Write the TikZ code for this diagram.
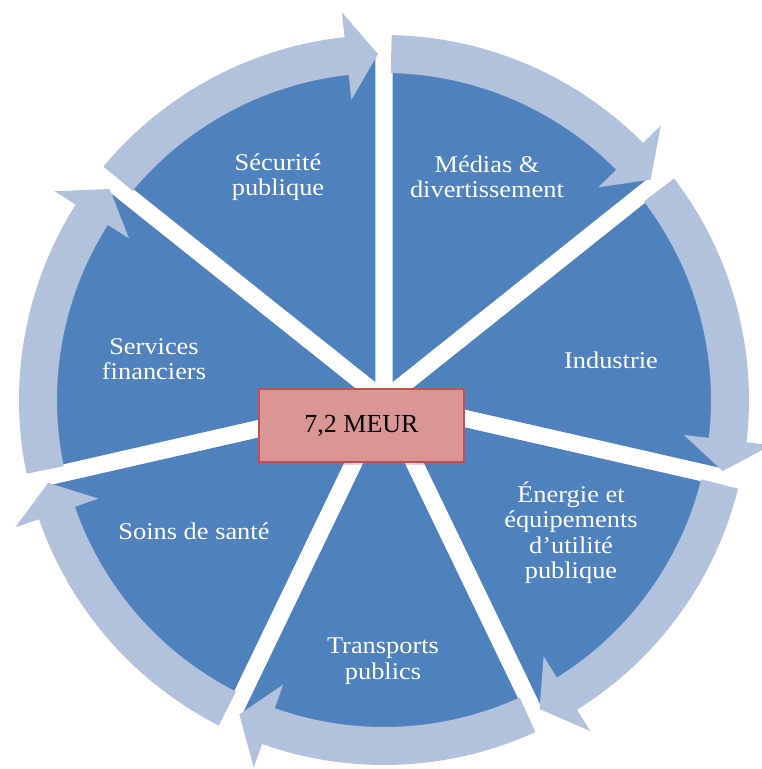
\documentclass[tikz,border=0pt]{standalone}
\usepackage{fontspec}
\setmainfont{Liberation Serif}
\newfontfamily\sectorfont{Liberation Serif}[FakeStretch=1.1]
\usetikzlibrary{shadows}

\definecolor{sectorblue}{RGB}{79,129,189}
\definecolor{arrowblue}{RGB}{178,193,220}
\definecolor{totalfill}{RGB}{217,150,148}
\definecolor{totalline}{RGB}{192,80,77}

\begin{document}
\begin{tikzpicture}
  [x=1pt, y=1pt,
   sector/.style={fill=sectorblue},
   cycle arrow/.style={fill=arrowblue},
   sectorlabel/.style={text=white, align=center, inner sep=0pt,
                       font=\sectorfont\fontsize{24}{25.5}\selectfont},
   total/.style={draw=totalline, line width=2pt, fill=totalfill,
                 minimum width=205pt, minimum height=73pt,
                 font=\fontsize{26}{30}\selectfont,
                 drop shadow={shadow xshift=1.5pt, shadow yshift=-2.5pt, opacity=0.3}}
  ]
  \useasboundingbox (-384,-369) rectangle (378,400);

  % pie, seven slices pulled out a little
  \fill[sector, shift={(64.286:20)}]   (0,0) -- (38.571:324)   arc[start angle=38.571,   end angle=90,       radius=324] -- cycle;
  \fill[sector, shift={(12.857:20)}]   (0,0) -- (-12.857:324)  arc[start angle=-12.857,  end angle=38.571,   radius=324] -- cycle;
  \fill[sector, shift={(-38.571:20)}]  (0,0) -- (-64.286:324)  arc[start angle=-64.286,  end angle=-12.857,  radius=324] -- cycle;
  \fill[sector, shift={(-90:20)}]      (0,0) -- (-115.714:324) arc[start angle=-115.714, end angle=-64.286,  radius=324] -- cycle;
  \fill[sector, shift={(-141.429:20)}] (0,0) -- (-167.143:324) arc[start angle=-167.143, end angle=-115.714, radius=324] -- cycle;
  \fill[sector, shift={(167.143:20)}]  (0,0) -- (141.429:324)  arc[start angle=141.429,  end angle=192.857,  radius=324] -- cycle;
  \fill[sector, shift={(115.714:20)}]  (0,0) -- (90:324)       arc[start angle=90,       end angle=141.429,  radius=324] -- cycle;

  % ring of arrows, clockwise
  \fill[cycle arrow] (88.8:365) arc[start angle=88.8, end angle=44.771, radius=365]
    -- (44.771:390) -- (39.571:346) -- (44.771:302) -- (44.771:327)
    arc[start angle=44.771, end angle=88.8, radius=327] -- cycle;
  \fill[cycle arrow] (37.371:365) arc[start angle=37.371, end angle=-6.657, radius=365]
    -- (-6.657:390) -- (-11.857:346) -- (-6.657:302) -- (-6.657:327)
    arc[start angle=-6.657, end angle=37.371, radius=327] -- cycle;
  \fill[cycle arrow] (-14.057:365) arc[start angle=-14.057, end angle=-58.086, radius=365]
    -- (-58.086:390) -- (-63.286:346) -- (-58.086:302) -- (-58.086:327)
    arc[start angle=-58.086, end angle=-14.057, radius=327] -- cycle;
  \fill[cycle arrow] (-65.486:365) arc[start angle=-65.486, end angle=-109.514, radius=365]
    -- (-109.514:390) -- (-114.714:346) -- (-109.514:302) -- (-109.514:327)
    arc[start angle=-109.514, end angle=-65.486, radius=327] -- cycle;
  \fill[cycle arrow] (-116.914:365) arc[start angle=-116.914, end angle=-160.943, radius=365]
    -- (-160.943:390) -- (-166.143:346) -- (-160.943:302) -- (-160.943:327)
    arc[start angle=-160.943, end angle=-116.914, radius=327] -- cycle;
  \fill[cycle arrow] (191.657:365) arc[start angle=191.657, end angle=147.629, radius=365]
    -- (147.629:390) -- (142.429:346) -- (147.629:302) -- (147.629:327)
    arc[start angle=147.629, end angle=191.657, radius=327] -- cycle;
  \fill[cycle arrow] (140.229:365) arc[start angle=140.229, end angle=96.2, radius=365]
    -- (96.2:390) -- (91:346) -- (96.2:302) -- (96.2:327)
    arc[start angle=96.2, end angle=140.229, radius=327] -- cycle;

  \node[sectorlabel] (securite)   at (-106,223)  {Sécurité\\publique};
  \node[sectorlabel] (medias)     at (103,223)   {Médias \&\\divertissement};
  \node[sectorlabel] (industrie)  at (227,40)    {Industrie};
  \node[sectorlabel] (energie)    at (187,-133)  {Énergie et\\équipements\\d’utilité\\publique};
  \node[sectorlabel] (transports) at (-1,-261)   {Transports\\publics};
  \node[sectorlabel] (soins)      at (-190,-131) {Soins de santé};
  \node[sectorlabel] (services)   at (-230,41)   {Services\\financiers};

  \node[total] (montant) at (-22.5,-25.5) {7,2 MEUR};
\end{tikzpicture}
\end{document}
